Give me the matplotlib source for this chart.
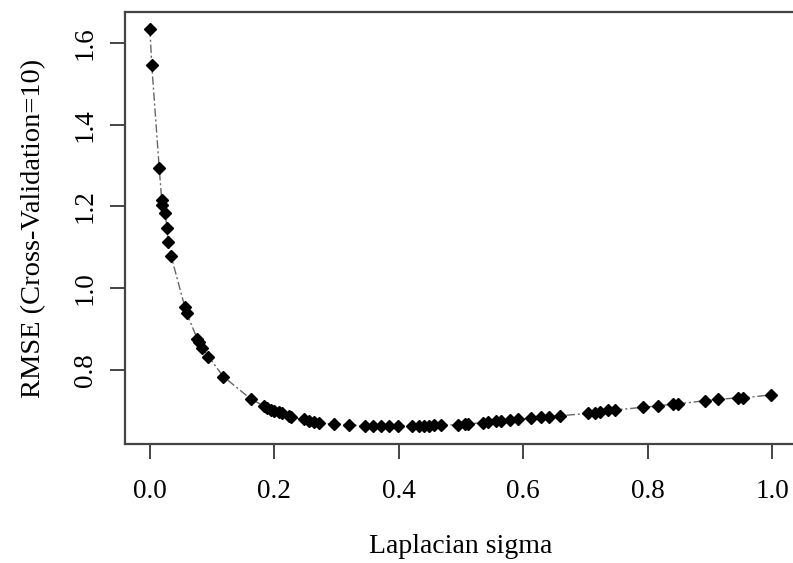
import matplotlib
matplotlib.use('Agg')
import matplotlib.pyplot as plt

# Laplacian sigma vs RMSE (10-fold CV)
sigma = [0.000, 0.003, 0.015, 0.019, 0.020, 0.024, 0.028, 0.029, 0.034,
         0.056, 0.059, 0.076, 0.079, 0.084, 0.094, 0.118, 0.163,
         0.184, 0.189, 0.195, 0.200, 0.208, 0.213, 0.224, 0.227,
         0.248, 0.256, 0.264, 0.272, 0.296, 0.320, 0.345, 0.358,
         0.372, 0.385, 0.398, 0.422, 0.433, 0.441, 0.449, 0.457,
         0.468, 0.495, 0.506, 0.511, 0.535, 0.543, 0.557, 0.565,
         0.578, 0.591, 0.613, 0.629, 0.642, 0.659, 0.704, 0.715,
         0.723, 0.736, 0.747, 0.793, 0.817, 0.841, 0.849, 0.892,
         0.913, 0.945, 0.954, 0.998]
rmse = [1.635, 1.546, 1.294, 1.216, 1.203, 1.184, 1.147, 1.114, 1.079,
        0.955, 0.939, 0.877, 0.869, 0.855, 0.833, 0.784, 0.728,
        0.712, 0.706, 0.702, 0.700, 0.698, 0.694, 0.688, 0.684,
        0.679, 0.676, 0.674, 0.670, 0.668, 0.666, 0.663, 0.663,
        0.663, 0.663, 0.663, 0.663, 0.663, 0.664, 0.664, 0.665,
        0.665, 0.666, 0.667, 0.668, 0.671, 0.673, 0.675, 0.676,
        0.678, 0.679, 0.682, 0.684, 0.686, 0.688, 0.694, 0.696,
        0.697, 0.701, 0.702, 0.709, 0.712, 0.717, 0.717, 0.725,
        0.728, 0.732, 0.732, 0.739]

xticks = [0.0, 0.2, 0.4, 0.6, 0.8, 1.0]
yticks = [0.8, 1.0, 1.2, 1.4, 1.6]

plt.rcParams['font.family'] = ['Liberation Serif', 'DejaVu Serif']

fig = plt.figure(figsize=(7.93, 5.63), dpi=100)
ax = fig.add_axes([125 / 793, 119 / 563, 672 / 793, 431.7 / 563])

ax.plot(sigma, rmse, color='#666666', lw=1.0, linestyle=(0, (6, 2, 1.5, 2)),
        marker='D', ms=6.3, mfc='black', mec='black', zorder=3)

ax.set_xlim(-0.04, 1.04)
ax.set_ylim(0.619, 1.675)
ax.set_xticks(xticks)
ax.set_xticklabels(['%.1f' % t for t in xticks])
ax.set_yticks(yticks)
ax.set_yticklabels(['%.1f' % t for t in yticks], rotation=90, va='center')

for s in ax.spines.values():
    s.set_color('#444444')
    s.set_linewidth(1.6)
ax.tick_params(axis='both', colors='#444444', labelcolor='black',
               labelsize=19.5, length=11, width=1.4)
ax.tick_params(axis='x', pad=14)
ax.tick_params(axis='y', pad=8.4)

ax.set_xlabel('Laplacian sigma', fontsize=20)
ax.xaxis.label.set_verticalalignment('baseline')
ax.xaxis.set_label_coords(0.5, -0.2525)

ax.set_ylabel('RMSE (Cross-Validation=10)', fontsize=20.5)
ax.yaxis.label.set_verticalalignment('baseline')
ax.yaxis.set_label_coords(-0.1265, 0.5)

fig.savefig('out.png', dpi=100)
